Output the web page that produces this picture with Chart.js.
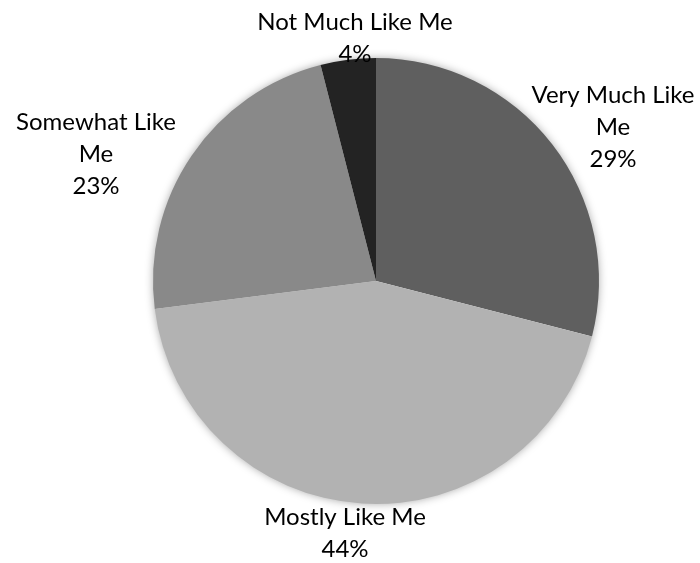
<!DOCTYPE html>
<html>
<head>
<meta charset="utf-8">
<script src="https://cdn.jsdelivr.net/npm/chart.js@4.4.0/dist/chart.umd.min.js"></script>
<style>
  html, body { margin: 0; padding: 0; background: #fff; }
  #wrap { width: 700px; height: 563px; position: relative; }
</style>
</head>
<body>
<div id="wrap"><canvas id="pieChart"></canvas></div>
<script>
// --- Data ---
const categories = ['Very Much Like Me', 'Mostly Like Me', 'Somewhat Like Me', 'Not Much Like Me'];
const shares = [29, 44, 23, 4];
// label text as it wraps in the picture
const labelLines = [
    ['Very Much Like', 'Me'],
    ['Mostly Like Me'],
    ['Somewhat Like', 'Me'],
    ['Not Much Like Me']
];

// --- Styles / layout ---
const sliceColors = ['#5f5f5f', '#b2b2b2', '#898989', '#232323'];
// first-line baseline offset from pie centre, px
const labelOffsets = [[237, -178], [-31, 244], [-280, -151], [-21, -251]];
const LINE_H = 32;
const LABEL_FONT = '24px Lato, "Open Sans", sans-serif';

// soft shadow behind the whole pie
const pieShadow = {
    id: 'pieShadow',
    beforeDatasetsDraw(chart) {
        const arc = chart.getDatasetMeta(0).data[0];
        if (!arc) return;
        const ctx = chart.ctx;
        ctx.save();
        ctx.shadowColor = 'rgba(0,0,0,0.4)';
        ctx.shadowBlur = 10;
        ctx.fillStyle = '#fff';
        ctx.beginPath();
        ctx.arc(arc.x, arc.y, arc.outerRadius - 1, 0, Math.PI * 2);
        ctx.fill();
        ctx.restore();
    }
};

// data labels: name + percent
const sliceLabels = {
    id: 'sliceLabels',
    afterDatasetsDraw(chart) {
        const meta = chart.getDatasetMeta(0);
        const ctx = chart.ctx;
        const total = shares.reduce((a, b) => a + b, 0);
        ctx.save();
        ctx.font = LABEL_FONT;
        ctx.fillStyle = '#000';
        ctx.textAlign = 'center';
        ctx.textBaseline = 'alphabetic';
        meta.data.forEach((arc, i) => {
            const lines = labelLines[i].concat([Math.round(shares[i] / total * 100) + '%']);
            const x = arc.x + labelOffsets[i][0];
            let y = arc.y + labelOffsets[i][1];
            lines.forEach(t => {
                ctx.fillText(t, x, y);
                y += LINE_H;
            });
        });
        ctx.restore();
    }
};

const chart = new Chart(document.getElementById('pieChart'), {
    type: 'pie',
    data: {
        labels: categories,
        datasets: [{
            data: shares,
            backgroundColor: sliceColors,
            borderWidth: 0,
            hoverOffset: 0
        }]
    },
    options: {
        responsive: true,
        maintainAspectRatio: false,
        animation: false,
        layout: { padding: { top: 58, bottom: 59, left: 153, right: 101 } },
        plugins: {
            legend: { display: false },
            tooltip: { enabled: false }
        }
    },
    plugins: [pieShadow, sliceLabels]
});
</script>
</body>
</html>
